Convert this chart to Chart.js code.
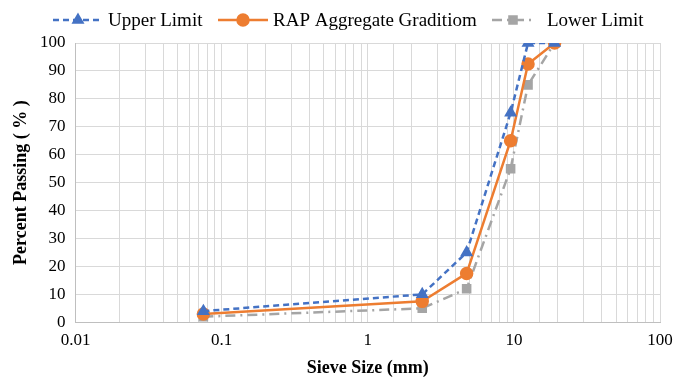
<!DOCTYPE html>
<html>
<head>
<meta charset="utf-8">
<script src="https://cdn.jsdelivr.net/npm/chart.js@4"></script>
<style>
  html, body { margin: 0; padding: 0; background: #fff; }
  #wrap { width: 675px; height: 381px; }
</style>
</head>
<body>
<div id="wrap"><canvas id="chart" width="675" height="381"></canvas></div>
<script>
/* --------------------------------------------
   Data
-------------------------------------------- */
const sieveSizes = [0.075, 2.36, 4.75, 9.5, 12.5, 19];
const upperLimit = [4, 10, 25, 75, 100, 100];
const rapGradation = [3, 7.5, 17.5, 65, 92.5, 100];
const lowerLimit = [2, 5, 12, 55, 85, 100];
const xTickLabels = [0.01, 0.1, 1, 10, 100];

const toPoints = (vals) => sieveSizes.map((x, i) => ({ x, y: vals[i] }));

const FONT = "'Liberation Serif', 'Times New Roman', serif";

/* --------------------------------------------
   Legend plugin (line + marker samples)
-------------------------------------------- */
const lineLegend = {
  id: "lineLegend",
  afterDraw(chart) {
    const { ctx } = chart;
    const items = [
      { x: 53, w: 50, tx: 108, ds: chart.data.datasets[0] },
      { x: 218, w: 50, tx: 273, ds: chart.data.datasets[1] },
      { x: 492, w: 42, tx: 547, ds: chart.data.datasets[2] },
    ];
    const y = 20;
    ctx.save();
    ctx.font = `19px ${FONT}`;
    ctx.textBaseline = "middle";
    items.forEach(({ x, w, tx, ds }) => {
      ctx.strokeStyle = ds.borderColor;
      ctx.lineWidth = ds.borderWidth;
      ctx.setLineDash(ds.borderDash || []);
      ctx.beginPath();
      ctx.moveTo(x, y);
      ctx.lineTo(x + w, y);
      ctx.stroke();
      ctx.setLineDash([]);
      ctx.fillStyle = ds.borderColor;
      Chart.helpers.drawPoint(
        ctx,
        { pointStyle: ds.pointStyle, radius: ds.pointRadius, borderWidth: 1, rotation: 0 },
        x + w / 2,
        y
      );
      ctx.fillStyle = "#000";
      ctx.fillText(ds.label, tx, y + 1);
    });
    ctx.restore();
  },
};

/* --------------------------------------------
   Chart
-------------------------------------------- */
const mkSet = (label, vals, color, dash, style, r) => ({
  label,
  data: toPoints(vals),
  borderColor: color,
  backgroundColor: color,
  pointBackgroundColor: color,
  pointBorderColor: color,
  borderWidth: 2.5,
  borderDash: dash,
  pointStyle: style,
  pointRadius: r,
  tension: 0,
});

new Chart(document.getElementById("chart"), {
  type: "line",
  data: {
    datasets: [
      mkSet("Upper Limit", upperLimit, "#4472c4", [6, 4], "triangle", 5),
      mkSet("RAP Aggregate Graditiom", rapGradation, "#ed7d31", [], "circle", 5.5),
      mkSet("Lower Limit", lowerLimit, "#a5a5a5", [10, 5, 2, 5], "rect", 5),
    ],
  },
  options: {
    responsive: false,
    animation: false,
    layout: { padding: { top: 43, right: 15, left: 12, bottom: 4 } },
    plugins: {
      legend: { display: false },
      tooltip: { enabled: false },
    },
    scales: {
      x: {
        type: "logarithmic",
        min: 0.01,
        max: 100,
        grid: { color: "#d9d9d9", lineWidth: 1, drawTicks: false },
        border: { color: "#bfbfbf" },
        ticks: {
          color: "#000",
          font: { family: FONT, size: 17, lineHeight: 2.1 },
          padding: 0,
          autoSkip: false,
          maxRotation: 0,
          callback: (v) => (xTickLabels.includes(v) ? String(v) : ""),
        },
        title: {
          display: true,
          text: "Sieve Size (mm)",
          color: "#000",
          font: { family: FONT, size: 18, weight: "bold", lineHeight: 1 },
          padding: { top: 1, bottom: 0 },
        },
      },
      y: {
        min: 0,
        max: 100,
        grid: { color: "#d9d9d9", lineWidth: 1, drawTicks: false },
        border: { color: "#bfbfbf" },
        ticks: {
          stepSize: 10,
          color: "#000",
          font: { family: FONT, size: 17, lineHeight: 1 },
          padding: 10,
        },
        title: {
          display: true,
          text: "Percent Passing ( % )",
          color: "#000",
          font: { family: FONT, size: 18, weight: "bold", lineHeight: 1 },
          padding: { top: 0, bottom: 0 },
        },
      },
    },
  },
  plugins: [lineLegend],
});
</script>
</body>
</html>
